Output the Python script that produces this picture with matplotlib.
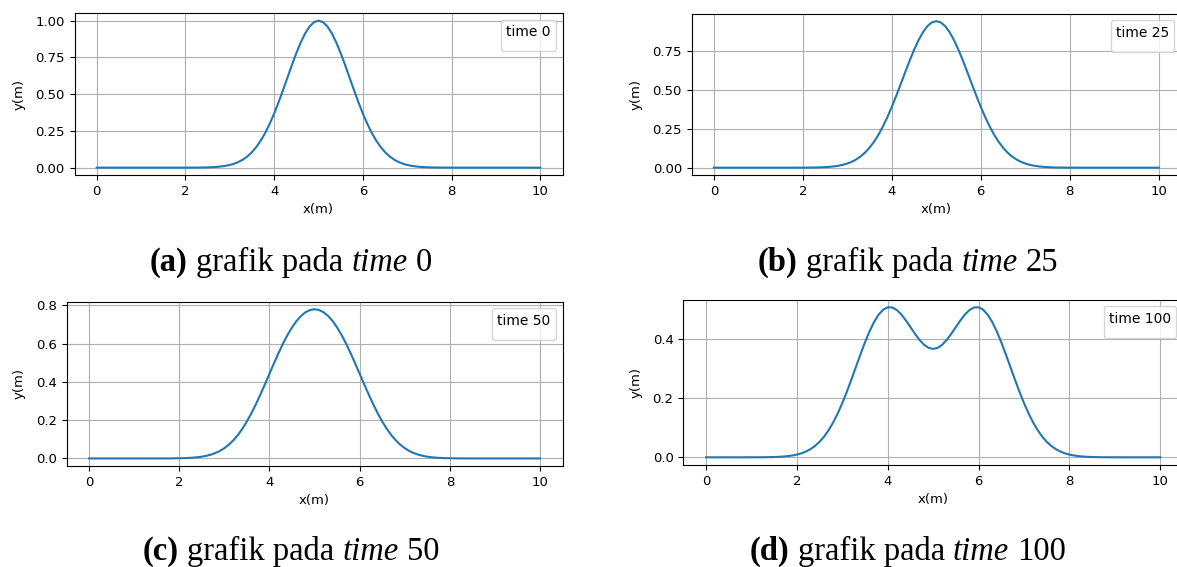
import matplotlib
matplotlib.use("Agg")
import matplotlib.pyplot as plt

# Displacement profiles y(x) of the pulse at four time steps
x_m = [0.0, 0.1, 0.2, 0.3, 0.4, 0.5, 0.6, 0.7, 0.8, 0.9,
       1.0, 1.1, 1.2, 1.3, 1.4, 1.5, 1.6, 1.7, 1.8, 1.9,
       2.0, 2.1, 2.2, 2.3, 2.4, 2.5, 2.6, 2.7, 2.8, 2.9,
       3.0, 3.1, 3.2, 3.3, 3.4, 3.5, 3.6, 3.7, 3.8, 3.9,
       4.0, 4.1, 4.2, 4.3, 4.4, 4.5, 4.6, 4.7, 4.8, 4.9,
       5.0, 5.1, 5.2, 5.3, 5.4, 5.5, 5.6, 5.7, 5.8, 5.9,
       6.0, 6.1, 6.2, 6.3, 6.4, 6.5, 6.6, 6.7, 6.8, 6.9,
       7.0, 7.1, 7.2, 7.3, 7.4, 7.5, 7.6, 7.7, 7.8, 7.9,
       8.0, 8.1, 8.2, 8.3, 8.4, 8.5, 8.6, 8.7, 8.8, 8.9,
       9.0, 9.1, 9.2, 9.3, 9.4, 9.5, 9.6, 9.7, 9.8, 9.9,
       10.0]

y_time0 = [0, 0, 0, 0, 0, 0, 0, 0, 0, 0,
           0, 0, 0, 0, 0, 0, 0, 0, 0, 0.0001,
           0.0001, 0.0002, 0.0004, 0.0007, 0.0012, 0.0019, 0.0032, 0.0050, 0.0079, 0.0122,
           0.0183, 0.0271, 0.0392, 0.0556, 0.0773, 0.1054, 0.1409, 0.1845, 0.2369, 0.2982,
           0.3679, 0.4449, 0.5273, 0.6126, 0.6977, 0.7788, 0.8521, 0.9139, 0.9608, 0.9901,
           1.0000, 0.9901, 0.9608, 0.9139, 0.8521, 0.7788, 0.6977, 0.6126, 0.5273, 0.4449,
           0.3679, 0.2982, 0.2369, 0.1845, 0.1409, 0.1054, 0.0773, 0.0556, 0.0392, 0.0271,
           0.0183, 0.0122, 0.0079, 0.0050, 0.0032, 0.0019, 0.0012, 0.0007, 0.0004, 0.0002,
           0.0001, 0.0001, 0, 0, 0, 0, 0, 0, 0, 0,
           0, 0, 0, 0, 0, 0, 0, 0, 0, 0,
           0]

y_time25 = [0, 0, 0, 0, 0, 0, 0, 0, 0, 0,
            0, 0, 0, 0, 0, 0, 0, 0, 0.0001, 0.0002,
            0.0003, 0.0005, 0.0008, 0.0013, 0.0022, 0.0034, 0.0054, 0.0082, 0.0124, 0.0183,
            0.0266, 0.0378, 0.0527, 0.0722, 0.0971, 0.1282, 0.1661, 0.2113, 0.2639, 0.3236,
            0.3897, 0.4609, 0.5355, 0.6111, 0.6851, 0.7546, 0.8166, 0.8682, 0.9071, 0.9312,
            0.9394, 0.9312, 0.9071, 0.8682, 0.8166, 0.7546, 0.6851, 0.6111, 0.5355, 0.4609,
            0.3897, 0.3236, 0.2639, 0.2113, 0.1661, 0.1282, 0.0971, 0.0722, 0.0527, 0.0378,
            0.0266, 0.0183, 0.0124, 0.0082, 0.0054, 0.0034, 0.0022, 0.0013, 0.0008, 0.0005,
            0.0003, 0.0002, 0.0001, 0, 0, 0, 0, 0, 0, 0,
            0, 0, 0, 0, 0, 0, 0, 0, 0, 0,
            0]

y_time50 = [0, 0, 0, 0, 0, 0, 0, 0, 0, 0,
            0, 0, 0, 0, 0, 0.0001, 0.0001, 0.0002, 0.0003, 0.0006,
            0.0010, 0.0016, 0.0025, 0.0040, 0.0061, 0.0092, 0.0136, 0.0198, 0.0281, 0.0392,
            0.0537, 0.0720, 0.0948, 0.1224, 0.1552, 0.1931, 0.2360, 0.2832, 0.3341, 0.3875,
            0.4421, 0.4965, 0.5492, 0.5989, 0.6441, 0.6839, 0.7175, 0.7440, 0.7633, 0.7749,
            0.7788, 0.7749, 0.7633, 0.7440, 0.7175, 0.6839, 0.6441, 0.5989, 0.5492, 0.4965,
            0.4421, 0.3875, 0.3341, 0.2832, 0.2360, 0.1931, 0.1552, 0.1224, 0.0948, 0.0720,
            0.0537, 0.0392, 0.0281, 0.0198, 0.0136, 0.0092, 0.0061, 0.0040, 0.0025, 0.0016,
            0.0010, 0.0006, 0.0003, 0.0002, 0.0001, 0.0001, 0, 0, 0, 0,
            0, 0, 0, 0, 0, 0, 0, 0, 0, 0,
            0]

y_time100 = [0, 0, 0, 0, 0, 0, 0, 0, 0, 0,
             0.0001, 0.0001, 0.0002, 0.0003, 0.0006, 0.0010, 0.0016, 0.0025, 0.0040, 0.0061,
             0.0092, 0.0135, 0.0196, 0.0278, 0.0387, 0.0527, 0.0704, 0.0923, 0.1185, 0.1491,
             0.1840, 0.2225, 0.2638, 0.3067, 0.3494, 0.3904, 0.4276, 0.4595, 0.4844, 0.5011,
             0.5092, 0.5086, 0.5000, 0.4848, 0.4647, 0.4421, 0.4193, 0.3986, 0.3821, 0.3715,
             0.3679, 0.3715, 0.3821, 0.3986, 0.4193, 0.4421, 0.4647, 0.4848, 0.5000, 0.5086,
             0.5092, 0.5011, 0.4844, 0.4595, 0.4276, 0.3904, 0.3494, 0.3067, 0.2638, 0.2225,
             0.1840, 0.1491, 0.1185, 0.0923, 0.0704, 0.0527, 0.0387, 0.0278, 0.0196, 0.0135,
             0.0092, 0.0061, 0.0040, 0.0025, 0.0016, 0.0010, 0.0006, 0.0003, 0.0002, 0.0001,
             0.0001, 0, 0, 0, 0, 0, 0, 0, 0, 0,
             0]

time_steps = [0, 25, 50, 100]
panel_letters = ["(a)", "(b)", "(c)", "(d)"]
profiles = [y_time0, y_time25, y_time50, y_time100]

W, H, DPI = 1177, 567, 100
plt.rcParams["font.family"] = "DejaVu Sans"
plt.rcParams["font.size"] = 9.5

fig = plt.figure(figsize=(W / DPI, H / DPI), dpi=DPI)

# axes boxes in pixels: left, top, right, bottom
boxes = [
    (74.5, 13.3, 562.5, 175.0),
    (691.6, 13.8, 1181.0, 175.0),
    (66.5, 301.8, 562.6, 465.9),
    (683.3, 299.8, 1183.0, 464.8),
]
y_ticks = [
    [0.0, 0.25, 0.5, 0.75, 1.0],
    [0.0, 0.25, 0.5, 0.75],
    [0.0, 0.2, 0.4, 0.6, 0.8],
    [0.0, 0.2, 0.4],
]
y_fmt = ["{:.2f}", "{:.2f}", "{:.1f}", "{:.1f}"]

for (l, t, r, b), yv, t_step, yt, fmt in zip(boxes, profiles, time_steps, y_ticks, y_fmt):
    ax = fig.add_axes([l / W, 1 - b / H, (r - l) / W, (b - t) / H])
    ax.plot(x_m, yv, color="C0", lw=1.5)
    ax.grid(True)
    ax.set_xticks([0, 2, 4, 6, 8, 10])
    ax.set_yticks(yt)
    ax.set_yticklabels([fmt.format(v) for v in yt])
    ax.set_xlabel("x(m)")
    ax.set_ylabel("y(m)", labelpad=7)
    ax.legend(handles=[], title=f"time {t_step}", loc="upper right",
              title_fontsize=10)

# captions under each panel: bold letter, regular text, italic word
cap_centers = [(291, 271), (908, 271), (291, 560), (908, 560)]
CAP_PT = 23.5
renderer = fig.canvas.get_renderer()
space_px = 0.25 * CAP_PT * DPI / 72

for (cx, by), letter, t_step in zip(cap_centers, panel_letters, time_steps):
    parts = [(letter, "bold", "normal"),
             ("grafik pada", "normal", "normal"),
             ("time", "normal", "italic"),
             (str(t_step), "normal", "normal")]
    texts = []
    for s, wt, st in parts:
        tx = fig.text(0, 1 - by / H, s, fontsize=CAP_PT, family="Liberation Serif",
                      weight=wt, style=st, va="baseline", ha="left", color="black")
        texts.append(tx)
    widths = [tx.get_window_extent(renderer).width for tx in texts]
    total = sum(widths) + space_px * (len(widths) - 1)
    x0 = cx - total / 2
    for tx, w in zip(texts, widths):
        tx.set_x(x0 / W)
        x0 += w + space_px

fig.savefig("out.png", dpi=DPI)
